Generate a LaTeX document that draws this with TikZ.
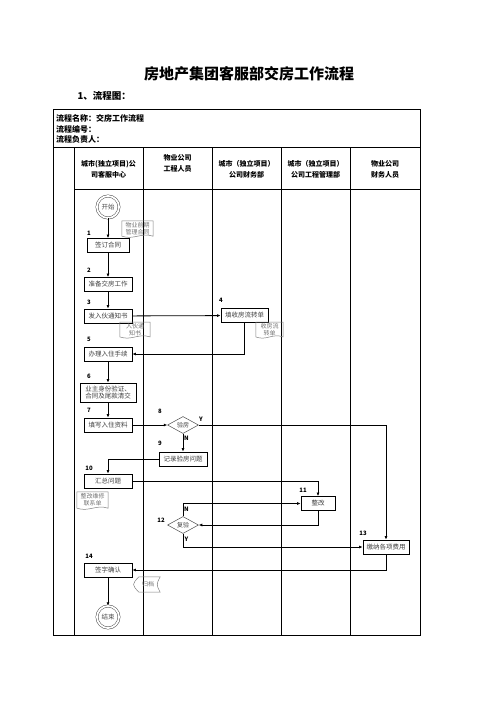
\documentclass[tikz,border=0pt]{standalone}
\usepackage{fontspec}
\setmainfont{Noto Sans CJK SC}
\usetikzlibrary{arrows.meta,calc,shapes.geometric}
\tikzset{
  grid/.style={line width=0.9pt},
  box/.style={draw,line width=0.8pt,inner sep=1pt,minimum width=48pt,minimum height=14pt,align=center,text=black!75,font=\fontsize{6.5}{7.5}\selectfont},
  dia/.style={diamond,draw=black!70,line width=0.5pt,aspect=1.8,inner sep=0.5pt,minimum width=31pt,minimum height=17pt,text=black!75,font=\fontsize{6}{6}\selectfont},
  num/.style={inner sep=0pt,font=\bfseries\fontsize{6}{6}\selectfont},
  yn/.style={inner sep=0pt,font=\bfseries\fontsize{6}{6}\selectfont},
  flow/.style={line width=0.8pt,-{Latex[length=3.5pt,width=3pt]}},
  doc/.style={inner sep=1pt,align=center,text=black!55,font=\fontsize{6}{7}\selectfont},
  docline/.style={draw=black!50,line width=0.5pt},
  term/.style={circle,draw=black!70,line width=0.5pt,double,double distance=1.8pt,minimum size=22pt,inner sep=0pt,text=black!70,font=\fontsize{6.5}{6.5}\selectfont},
  hdr/.style={align=center,font=\bfseries\fontsize{7}{11}\selectfont},
  info/.style={anchor=west,inner sep=0pt,font=\bfseries\fontsize{8}{8}\selectfont}
}
\newcommand{\docwave}[1]{\draw[docline] let \p1=(#1.south west), \p2=(#1.north east), \n1={\x2-\x1} in
  (\x1,\y1) -- (\x1,\y2) -- (\x2,\y2) -- (\x2,\y1) .. controls +({-0.4*\n1*1pt},4pt) and +({0.4*\n1*1pt},-4pt) .. (\x1,\y1);}
\newcommand{\storeshape}[1]{\draw[docline] let \p1=(#1.south west), \p2=(#1.north east) in
  (\x1+3pt,\y2) -- (\x2,\y2) .. controls (\x2-4pt,{(\y1+\y2)/2}) .. (\x2,\y1) -- (\x1+3pt,\y1) .. controls (\x1-4pt,{(\y1+\y2)/2}) .. (\x1+3pt,\y2);}
\begin{document}
\begin{tikzpicture}[x=1pt,y=-1pt]
\useasboundingbox (0,0) rectangle (496,702);
% title
\node[font=\bfseries\fontsize{15}{15}\selectfont] (title) at (249,74) {房地产集团客服部交房工作流程};
\node[anchor=west,font=\bfseries\fontsize{9.5}{9.5}\selectfont] (sub) at (74,96) {1、流程图：};
% table
\draw[grid] (53,109) rectangle (420,635);
\draw[grid] (53,147) -- (420,147);
\draw[grid] (74,189) -- (420,189);
\foreach \x in {74,143,212,281,350} \draw[grid] (\x,147) -- (\x,635);
\node[info] (i1) at (56,118) {流程名称：交房工作流程};
\node[info] (i2) at (56,129) {流程编号：};
\node[info] (i3) at (56,139.5) {流程负责人：};
\node[hdr] (h1) at (108.5,169) {城市(独立项目)公\\司客服中心};
\node[hdr] (h2) at (177.5,163) {物业公司\\工程人员};
\node[hdr] (h3) at (246.5,169) {城市（独立项目）\\公司财务部};
\node[hdr] (h4) at (315.5,169) {城市（独立项目）\\公司工程管理部};
\node[hdr] (h5) at (385,169) {物业公司\\财务人员};
% flow nodes
\node[term] (start) at (108,207) {开始};
\node[doc,minimum width=31pt,minimum height=15pt] (d1) at (137.5,228.5) {物业前期\\管理合同};
\docwave{d1}
\node[num] (n1) at (89,233) {1};
\node[box,minimum width=42pt] (b1) at (108,245.5) {签订合同};
\node[num] (n2) at (89,270) {2};
\node[box] (b2) at (108,284.5) {准备交房工作};
\node[num] (n3) at (89,302) {3};
\node[box] (b3) at (108,316) {发入伙通知书};
\node[num] (n4) at (221,300) {4};
\node[box,minimum width=47pt] (b4) at (244.5,315.5) {填收房流转单};
\node[doc,minimum width=30pt,minimum height=13pt] (d3) at (135,329.5) {入伙通\\知书};
\docwave{d3}
\node[doc,minimum width=27pt,minimum height=13pt] (d4) at (269.5,329.5) {收房流\\转单};
\docwave{d4}
\node[num] (n5) at (89,339) {5};
\node[box] (b5) at (108,354) {办理入住手续};
\node[num] (n6) at (89,376) {6};
\node[box,minimum width=56pt,minimum height=19pt] (b6) at (108,392.5) {业主身份验证、\\合同及尾款清交};
\node[num] (n7) at (89,410) {7};
\node[box] (b7) at (108,425) {填写入住资料};
\node[num] (n8) at (160,411) {8};
\node[dia] (q8) at (183,425) {验房};
\node[yn] (y8) at (201,419) {Y};
\node[yn] (no8) at (186.5,438) {N};
\node[num] (n9) at (160,443) {9};
\node[box] (b9) at (183,459) {记录验房问题};
\node[num] (n10) at (89,468) {10};
\node[box] (b10) at (108,481) {汇总问题};
\node[doc,minimum width=31pt,minimum height=16pt] (d10) at (92.5,500) {整改维修\\联系单};
\docwave{d10}
\node[num] (n11) at (303,490) {11};
\node[box,minimum width=34pt] (b11) at (318,503.5) {整改};
\node[num] (n12) at (161,520) {12};
\node[dia] (q12) at (183,525) {复验};
\node[yn] (no12) at (186.5,509) {N};
\node[yn] (y12) at (186.5,539) {Y};
\node[num] (n13) at (363,533) {13};
\node[box,minimum width=46pt] (b13) at (386,547) {缴纳各项费用};
\node[num] (n14) at (89,556) {14};
\node[box] (b14) at (108,570) {签字确认};
\node[doc,minimum width=24pt,minimum height=15pt] (d14) at (148,584.5) {归档};
\storeshape{d14}
\node[term] (end) at (108,617) {结束};
% connectors
\draw[flow] (start) -- (b1);
\draw[flow] (b1) -- (b2);
\draw[flow] (b2) -- (b3);
\draw[flow] (b3) -- (b4);
\draw[flow] (b4.south) |- (b5.east);
\draw[flow] (b5) -- (b6);
\draw[flow] (b6) -- (b7);
\draw[flow] (b7) -- (q8);
\draw[flow] (q8.east) -| (b13.north);
\draw[flow] (q8) -- (b9);
\draw[flow] (b9.west) -| (b10.north);
\draw[flow] (b10.east) -| (b11.north);
\draw[flow] (b11.south) |- (q12.east);
\draw[flow] (q12.north) |- (b11.west);
\draw[flow] (q12.south) |- (b13.west);
\draw[flow] (b13.south) |- (b14.east);
\draw[flow] (b14) -- (end);
\end{tikzpicture}
\end{document}
